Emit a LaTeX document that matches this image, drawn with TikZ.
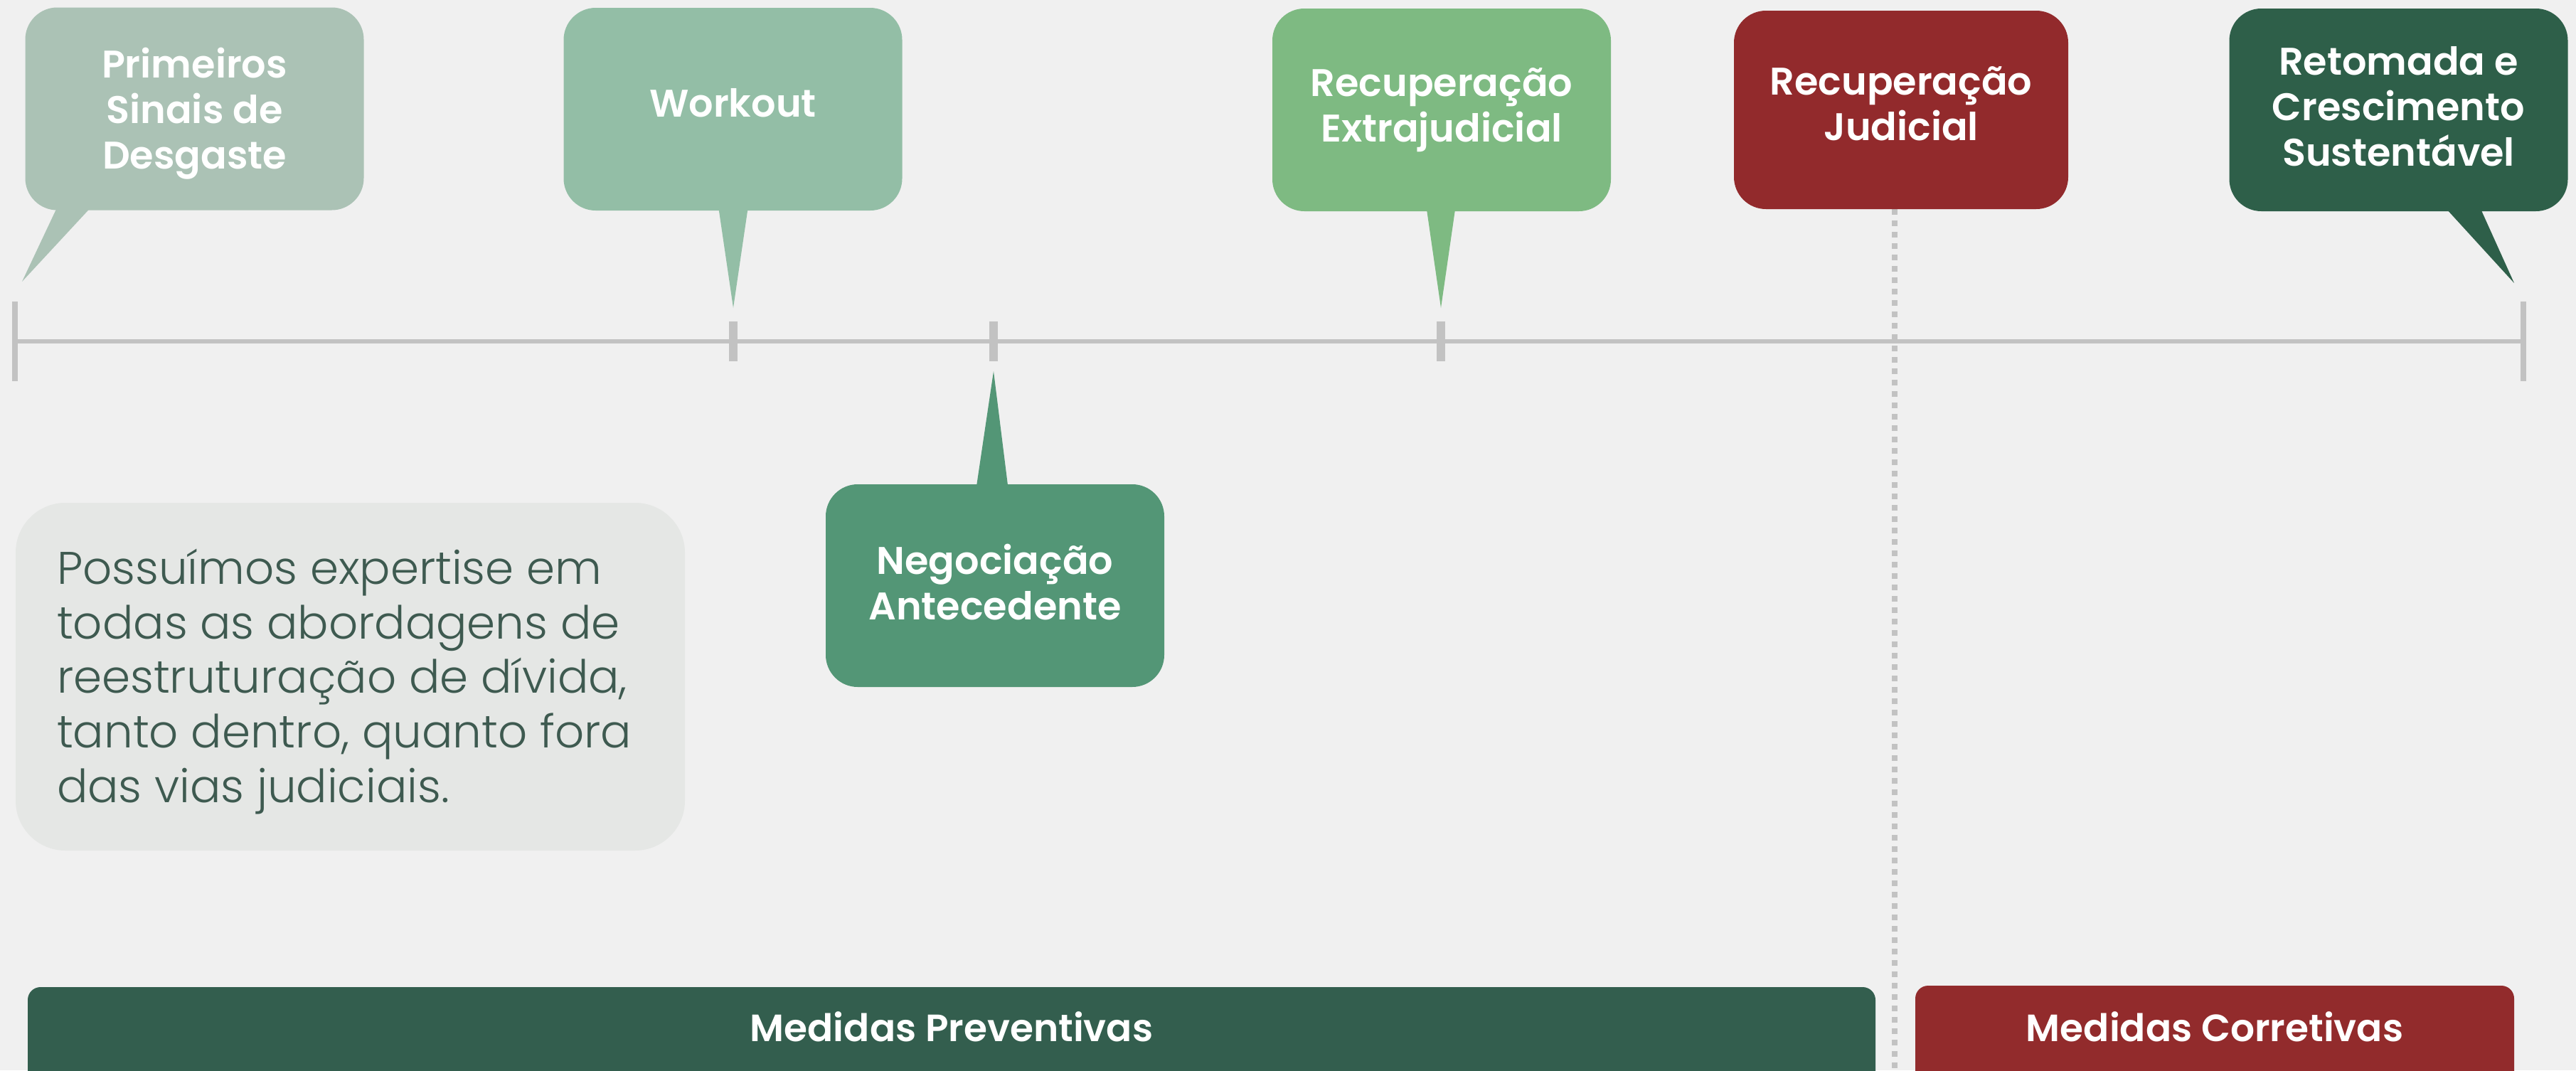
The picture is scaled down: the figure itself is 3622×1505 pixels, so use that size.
\documentclass[tikz,border=0pt]{standalone}
\usepackage{fontspec}
\setmainfont{Poppins}
\newfontfamily\semifont{Poppins SemiBold}
\newfontfamily\lightfont{Poppins Light}
\usepackage{tikz}

\definecolor{bgcol}{HTML}{F0F0F0}
\definecolor{linecol}{HTML}{C2C2C2}
\definecolor{sinaiscol}{HTML}{ABC2B5}
\definecolor{workoutcol}{HTML}{93BEA6}
\definecolor{extracol}{HTML}{7EBA82}
\definecolor{judcol}{HTML}{922A2C}
\definecolor{retomadacol}{HTML}{2E5F49}
\definecolor{negoccol}{HTML}{539676}
\definecolor{prevcol}{HTML}{335E4E}
\definecolor{corrcol}{HTML}{922B2C}
\definecolor{notacol}{HTML}{E5E7E5}
\definecolor{notatext}{HTML}{3E5A50}

\begin{document}
\begin{tikzpicture}[x=0.1mm, y=-0.1mm,
  bubble/.style={rounded corners=4.5mm, minimum width=47.6mm, minimum height=28.5mm, inner sep=0pt},
  bubbletext/.style={align=center, text=white, font=\semifont\fontsize{15.4}{18.2}\selectfont},
  barlabel/.style={text=white, font=\semifont\fontsize{15.2}{17}\selectfont}]

\useasboundingbox (0,0) rectangle (3622,1505);
\clip (0,0) rectangle (3622,1505);
\fill[bgcol] (0,0) rectangle (3622,1505);

%timeline
\coordinate (t0) at (21,480);
\coordinate (t1) at (1031,480);
\coordinate (t2) at (1397,480);
\coordinate (t3) at (2026,480);
\coordinate (t4) at (3548,480);
\draw[linecol, line width=0.6mm] (t0) -- (t4);
\draw[linecol, line width=0.8mm] ([yshift=5.6mm]t0) -- ([yshift=-5.6mm]t0);
\draw[linecol, line width=0.8mm] ([yshift=5.6mm]t4) -- ([yshift=-5.6mm]t4);
\foreach \t in {t1,t2,t3}
  \draw[linecol, line width=1.2mm] ([yshift=2.8mm]\t) -- ([yshift=-2.75mm]\t);

%separator
\coordinate (sep) at (2664,294);
\coordinate (sepend) at (2664,1505);
\draw[linecol, line width=0.8mm, dash pattern=on 0.8mm off 0.8mm] (sep) -- (sepend);

%pointer tips
\coordinate (tip1) at (31,396);
\coordinate (tip2) at (1031,433);
\coordinate (tip3) at (2026,433);
\coordinate (tip5) at (3535,398);
\coordinate (tip6) at (1397,522);

%bubbles
\node[bubble, fill=sinaiscol] (sinais) at (273.5,153) {};
\node[bubble, fill=workoutcol] (workout) at (1030.5,153.5) {};
\node[bubble, fill=extracol] (extra) at (2027,154.5) {};
\node[bubble, fill=judcol, minimum width=47mm, minimum height=27.9mm] (judicial) at (2673,154.5) {};
\node[bubble, fill=retomadacol] (retomada) at (3372.5,154.5) {};
\node[bubble, fill=negoccol] (negoc) at (1399,823.5) {};

\fill[sinaiscol] ([xshift=4.8mm,yshift=1mm]sinais.south west) -- ([xshift=9.8mm,yshift=1mm]sinais.south west) -- (tip1) -- cycle;
\fill[workoutcol] ([xshift=-2.1mm,yshift=1mm]workout.south) -- ([xshift=2.2mm,yshift=1mm]workout.south) -- (tip2) -- cycle;
\fill[extracol] ([xshift=-2.2mm,yshift=1mm]extra.south) -- ([xshift=2mm,yshift=1mm]extra.south) -- (tip3) -- cycle;
\fill[retomadacol] ([xshift=-17.7mm,yshift=1mm]retomada.south east) -- ([xshift=-12.6mm,yshift=1mm]retomada.south east) -- (tip5) -- cycle;
\fill[negoccol] ([xshift=-2.7mm,yshift=-1mm]negoc.north) -- ([xshift=1.9mm,yshift=-1mm]negoc.north) -- (tip6) -- cycle;

\node[bubbletext] (sinaistxt) at ([yshift=-0.7mm]sinais.center) {Primeiros\\Sinais de\\Desgaste};
\node[bubbletext] (workouttxt) at ([yshift=0.9mm]workout.center) {Workout};
\node[bubbletext] (extratxt) at (extra.center) {Recuperação\\Extrajudicial};
\node[bubbletext] (judicialtxt) at ([yshift=0.9mm]judicial.center) {Recuperação\\Judicial};
\node[bubbletext] (retomadatxt) at ([yshift=0.5mm]retomada.center) {Retomada e\\Crescimento\\Sustentável};
\node[bubbletext] (negoctxt) at ([yshift=0.5mm]negoc.center) {Negociação\\Antecedente};

%note
\node[fill=notacol, rounded corners=7mm, minimum width=94.1mm, minimum height=48.9mm] (nota) at (492.5,951.5) {};
\node[anchor=west, align=left, inner sep=0pt, text=notatext, font=\lightfont\fontsize{18.3}{21.9}\selectfont] (notatexto) at ([xshift=5.8mm,yshift=-0.7mm]nota.west)
  {Possuímos expertise em\\todas as abordagens de\\reestruturação de dívida,\\tanto dentro, quanto fora\\das vias judiciais.};

%bars
\fill[prevcol, rounded corners=1.8mm] (39,1388) rectangle (2637,1560);
\fill[corrcol, rounded corners=1.8mm] (2693,1386) rectangle (3535,1560);
\node[barlabel] (preventivas) at (1338,1444) {Medidas Preventivas};
\node[barlabel] (corretivas) at (3114,1444) {Medidas Corretivas};

\end{tikzpicture}
\end{document}
